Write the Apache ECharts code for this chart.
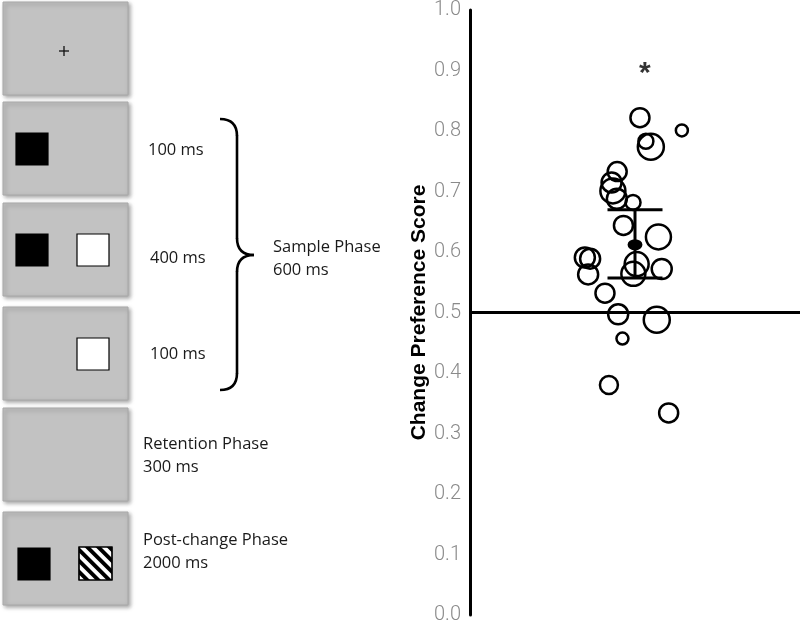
<!DOCTYPE html>
<html>
<head>
<meta charset="utf-8">
<script src="https://cdn.jsdelivr.net/npm/echarts@6/dist/echarts.min.js"></script>
<style>html,body{margin:0;padding:0;background:#fff;}#c{width:800px;height:625px;}</style>
</head>
<body>
<div id="c"></div>
<script>
// ---- data ----
var scores  = [0.822,0.801,0.783,0.774,0.733,0.715,0.701,0.688,0.682,0.644,0.625,0.591,0.589,0.563,0.580,0.564,0.572,0.532,0.497,0.488,0.457,0.380,0.334];
var jitter  = [0.515,0.642,0.533,0.548,0.446,0.429,0.433,0.445,0.494,0.465,0.571,0.348,0.364,0.358,0.505,0.495,0.581,0.409,0.449,0.566,0.462,0.421,0.602];
var weights = [9.5,6,7.5,13,9.5,10,12.5,10,7.5,9.5,12.5,10,10,10,12,12,10,9.5,10,13,6,9,9.5];
var meanScore = 0.612, ciLow = 0.557, ciHigh = 0.670;
var chanceLevel = 0.5;
var sigMark = '*', sigY = 0.903;
var yTicks = ['0.0','0.1','0.2','0.3','0.4','0.5','0.6','0.7','0.8','0.9','1.0'];
var durationLabels = ['100 ms','400 ms','100 ms'];
var phaseLabels = [['Sample Phase','600 ms'],['Retention Phase','300 ms'],['Post-change Phase','2000 ms']];

// ---- left panel (task schematic) ----
var FONT = "'Open Sans', sans-serif";
var panelY = [2,102,203,307,408,512];
var g = [];
panelY.forEach(function(y){
  g.push({type:'rect', shape:{x:3,y:y,width:125,height:93},
    style:{fill:'#c2c2c2', stroke:'#a8a8a8', lineWidth:1, shadowBlur:4, shadowOffsetX:2, shadowOffsetY:2, shadowColor:'rgba(0,0,0,0.35)'}});
});
// fixation cross
g.push({type:'line', shape:{x1:59,y1:51,x2:69,y2:51}, style:{stroke:'#111',lineWidth:1.3}});
g.push({type:'line', shape:{x1:64,y1:46,x2:64,y2:56}, style:{stroke:'#111',lineWidth:1.3}});
function sq(x,y,fill){ g.push({type:'rect', shape:{x:x,y:y,width:32,height:32}, style:{fill:fill, stroke:'#000', lineWidth:1.2}}); }
sq(16,133,'#000');
sq(16,234,'#000'); sq(77,234,'#fff');
sq(77,338,'#fff');
sq(18,548,'#000');
// hatched square
(function(){
  var x0=79,y0=547,s=33;
  g.push({type:'rect', shape:{x:x0,y:y0,width:s,height:s}, style:{fill:'#fff', stroke:'#000', lineWidth:1.2}});
  function clip(poly, f){
    var out=[];
    for(var i=0;i<poly.length;i++){
      var a=poly[i], b=poly[(i+1)%poly.length], fa=f(a), fb=f(b);
      if(fa>=0) out.push(a);
      if((fa>=0)!==(fb>=0)){ var t=fa/(fa-fb); out.push([a[0]+t*(b[0]-a[0]), a[1]+t*(b[1]-a[1])]); }
    }
    return out;
  }
  var period=11, w=5.5;
  for(var c=-s-period; c<s+period; c+=period){
    var poly=[[x0,y0],[x0+s,y0],[x0+s,y0+s],[x0,y0+s]];
    (function(c){
      poly = clip(poly, function(p){ return ((p[1]-y0)-(p[0]-x0)) - c; });
      poly = clip(poly, function(p){ return c + w - ((p[1]-y0)-(p[0]-x0)); });
    })(c);
    if(poly.length>2) g.push({type:'polygon', shape:{points:poly}, style:{fill:'#000'}});
  }
  g.push({type:'rect', shape:{x:x0,y:y0,width:s,height:s}, style:{fill:'none', stroke:'#000', lineWidth:1.2}});
})();
// texts
function txt(x,y,t){ g.push({type:'text', x:x, y:y, style:{text:t, fill:'#1a1a1a', font:'16.5px '+FONT, textVerticalAlign:'middle', textAlign:'left'}}); }
txt(148,150,durationLabels[0]);
txt(150,258,durationLabels[1]);
txt(150,354,durationLabels[2]);
txt(273,247,phaseLabels[0][0]); txt(273,270,phaseLabels[0][1]);
txt(143,444,phaseLabels[1][0]); txt(143,467,phaseLabels[1][1]);
txt(143,540,phaseLabels[2][0]); txt(143,563,phaseLabels[2][1]);
// brace
var bst = {stroke:'#000', lineWidth:2.6, fill:'none'};
g.push({type:'bezierCurve', shape:{x1:220,y1:119,cpx1:237,cpy1:119,x2:237,y2:136}, style:bst});
g.push({type:'line', shape:{x1:237,y1:135.5,x2:237,y2:238.5}, style:bst});
g.push({type:'bezierCurve', shape:{x1:237,y1:238,cpx1:237,cpy1:255,x2:254,y2:255}, style:bst});
g.push({type:'bezierCurve', shape:{x1:254,y1:255,cpx1:237,cpy1:255,x2:237,y2:272}, style:bst});
g.push({type:'line', shape:{x1:237,y1:271.5,x2:237,y2:373.5}, style:bst});
g.push({type:'bezierCurve', shape:{x1:237,y1:373,cpx1:237,cpy1:390,x2:220,y2:390}, style:bst});

// ---- chart ----
var chart = echarts.init(document.getElementById('c'), null, {renderer:'canvas'});
var pts = scores.map(function(v,i){ return [jitter[i], v, weights[i]]; });
chart.setOption({
  animation:false,
  graphic:g,
  grid:{left:470, right:0, top:8, bottom:10},
  xAxis:{type:'value', min:0, max:1, show:false},
  yAxis:{type:'value', min:0, max:1, interval:0.1,
    axisLine:{show:true, onZero:false, lineStyle:{color:'#000', width:3}},
    axisTick:{show:false}, splitLine:{show:false},
    axisLabel:{margin:9, color:'#8a8a8a', fontSize:20, fontFamily:'Roboto', fontWeight:300,
      formatter:function(v){ return yTicks[Math.round(v*10)]; }},
    name:'Change Preference Score', nameLocation:'middle', nameGap:40,
    nameTextStyle:{color:'#000', fontSize:21, fontWeight:'bold', fontFamily:"'Liberation Sans', Arial, sans-serif"}
  },
  series:[
    {type:'scatter', data:pts, symbol:'circle',
      symbolSize:function(d){ return d[2]*2; },
      itemStyle:{color:'rgba(0,0,0,0)', borderColor:'#000', borderWidth:2.5, opacity:1},
      markLine:{silent:true, symbol:'none', label:{show:false},
        lineStyle:{color:'#000', width:3, type:'solid'},
        data:[{yAxis:chanceLevel}]},
      z:3
    },
    {type:'custom', data:[[0.5, meanScore, ciLow, ciHigh]], z:4,
      renderItem:function(params, api){
        var x=api.value(0);
        var pm=api.coord([x, api.value(1)]);
        var pl=api.coord([x, api.value(2)]);
        var ph=api.coord([x, api.value(3)]);
        var hw=27.5;
        var st={stroke:'#000', lineWidth:3};
        return {type:'group', children:[
          {type:'line', shape:{x1:pm[0],y1:pl[1],x2:pm[0],y2:ph[1]}, style:st},
          {type:'line', shape:{x1:pm[0]-hw,y1:pl[1],x2:pm[0]+hw,y2:pl[1]}, style:st},
          {type:'line', shape:{x1:pm[0]-hw,y1:ph[1],x2:pm[0]+hw,y2:ph[1]}, style:st},
          {type:'circle', x:pm[0], y:pm[1], scaleX:1.35, scaleY:1, shape:{cx:0,cy:0,r:5.5}, style:{fill:'#000'}}
        ]};
      }
    },
    {type:'scatter', data:[[0.53, sigY]], symbolSize:1, itemStyle:{color:'rgba(0,0,0,0)'},
      label:{show:true, position:'inside', formatter:sigMark, color:'#000', fontSize:30, fontWeight:'bold', fontFamily:"'Liberation Sans', Arial, sans-serif", offset:[0,5]}}
  ]
});
</script>
</body>
</html>
